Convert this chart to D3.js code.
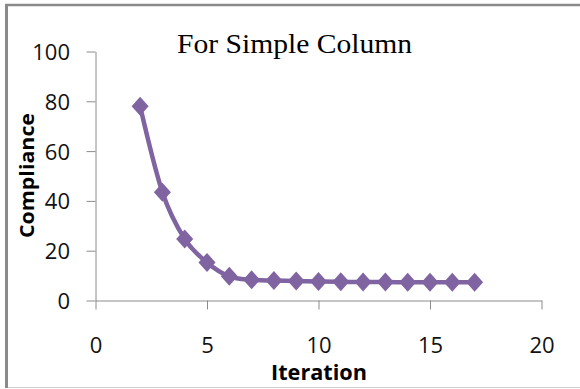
<!DOCTYPE html>
<html>
<head>
<meta charset="utf-8">
<script src="https://cdn.jsdelivr.net/npm/d3@7"></script>
<style>
  html, body { margin: 0; padding: 0; background: #fff; }
  svg { display: block; }
</style>
</head>
<body>
<svg id="chart" width="580" height="389"></svg>
<script>
// Data
const iterations = [2, 3, 4, 5, 6, 7, 8, 9, 10, 11, 12, 13, 14, 15, 16, 17];
const compliance = [78, 43.5, 24.7, 15.3, 9.7, 8.3, 8.0, 7.8, 7.6, 7.5, 7.4, 7.4, 7.3, 7.3, 7.3, 7.3];
const xTicks = [0, 5, 10, 15, 20];
const yTicks = [0, 20, 40, 60, 80, 100];
const titleText = "For Simple Column";
const xLabel = "Iteration";
const yLabel = "Compliance";

const svg = d3.select("#chart");
const W = 580, H = 389;
const mLeft = 95.5, mRight = 541.5, mTop = 51.5, mBottom = 300.5;

const x = d3.scaleLinear().domain([0, 20]).range([mLeft, mRight]);
const y = d3.scaleLinear().domain([0, 100]).range([mBottom, mTop]);

// Frame
svg.append("line").attr("x1", 5).attr("x2", W).attr("y1", 5).attr("y2", 5)
  .attr("stroke", "#8a8a8a").attr("stroke-width", 2.5);
svg.append("line").attr("x1", 6.5).attr("x2", 6.5).attr("y1", 4).attr("y2", 388)
  .attr("stroke", "#8a8a8a").attr("stroke-width", 3);
svg.append("line").attr("x1", 8).attr("x2", W).attr("y1", 387.5).attr("y2", 387.5)
  .attr("stroke", "#cfcfcf").attr("stroke-width", 1);

const axisColor = "#8c8c8c";
const tickFont = "'Open Sans', sans-serif";

// Y axis
const yAxis = svg.append("g").attr("transform", `translate(${mLeft},0)`)
  .call(d3.axisLeft(y).tickValues(yTicks).tickSize(9).tickSizeOuter(0).tickFormat(d3.format("d")));
yAxis.select(".domain").attr("stroke", axisColor);
yAxis.selectAll(".tick line").attr("stroke", axisColor);
yAxis.selectAll(".tick text")
  .attr("x", -25.5).attr("dy", "0.36em")
  .attr("font-family", tickFont).attr("font-size", 22).attr("fill", "#111");

// X axis
const xAxis = svg.append("g").attr("transform", `translate(0,${mBottom})`)
  .call(d3.axisBottom(x).tickValues(xTicks).tickSize(9).tickSizeOuter(0).tickFormat(d3.format("d")));
xAxis.select(".domain").attr("stroke", axisColor);
xAxis.selectAll(".tick line").attr("stroke", axisColor);
xAxis.selectAll(".tick text")
  .attr("y", 52.5).attr("dy", 0)
  .attr("font-family", tickFont).attr("font-size", 22).attr("fill", "#111");

// Line
const pts = iterations.map((d, i) => [d, compliance[i]]);
const purple = "#8064A2";
svg.append("path")
  .datum(pts)
  .attr("fill", "none")
  .attr("stroke", purple)
  .attr("stroke-width", 4.5)
  .attr("d", d3.line().x(d => x(d[0])).y(d => y(d[1])).curve(d3.curveCatmullRom.alpha(0)));

// Diamond markers
const hw = 8.5, hh = 9.5;
svg.append("g").selectAll("path")
  .data(pts)
  .join("path")
  .attr("transform", d => `translate(${x(d[0])},${y(d[1])})`)
  .attr("d", `M0,${-hh}L${hw},0L0,${hh}L${-hw},0Z`)
  .attr("fill", purple);

// Title
svg.append("text")
  .attr("x", 294.5).attr("y", 53)
  .attr("text-anchor", "middle")
  .attr("font-family", "'Liberation Serif', 'DejaVu Serif', serif")
  .attr("font-size", 27)
  .attr("textLength", 235).attr("lengthAdjust", "spacingAndGlyphs")
  .attr("fill", "#000")
  .text(titleText);

// X label
svg.append("text")
  .attr("x", 319).attr("y", 380)
  .attr("text-anchor", "middle")
  .attr("font-family", tickFont).attr("font-weight", "bold")
  .attr("font-size", 21)
  .attr("textLength", 96).attr("lengthAdjust", "spacingAndGlyphs")
  .attr("fill", "#000")
  .text(xLabel);

// Y label
svg.append("text")
  .attr("transform", "translate(33.5,175.5) rotate(-90)")
  .attr("text-anchor", "middle")
  .attr("font-family", tickFont).attr("font-weight", "bold")
  .attr("font-size", 20)
  .attr("textLength", 125).attr("lengthAdjust", "spacingAndGlyphs")
  .attr("fill", "#000")
  .text(yLabel);
</script>
</body>
</html>
